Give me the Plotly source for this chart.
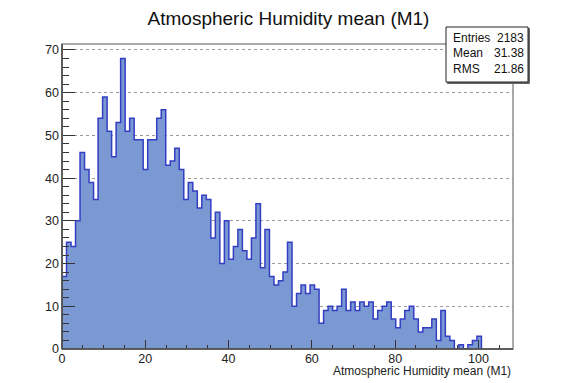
import plotly.graph_objects as go

# ---------------- data ----------------
title_text = "Atmospheric Humidity mean (M1)"
x_title = "Atmospheric Humidity mean (M1)"
counts = [17, 25, 24, 30, 46, 42, 39, 35, 54, 59,
          51, 45, 53, 68, 51, 54, 49, 49, 42, 49,
          49, 54, 56, 43, 44, 47, 42, 35, 39, 37,
          33, 36, 35, 26, 32, 20, 30, 21, 24, 28,
          23, 21, 26, 34, 19, 28, 17, 15, 16, 18,
          25, 10, 13, 15, 13, 15, 14, 6, 9, 10,
          9, 10, 14, 9, 11, 9, 11, 10, 11, 7,
          9, 10, 11, 7, 5, 7, 9, 10, 7, 4,
          5, 5, 7, 2, 9, 3, 2, 0, 1, 0,
          1, 2, 3]
N_BINS = 100
X_MIN = 0.0
X_MAX = 108.3
Y_MAX = 71.4
stat_labels = ["Entries", "Mean", "RMS"]
stat_values = ["2183", "31.38", "21.86"]

# ---------------- figure ----------------
bw = (X_MAX - X_MIN) / N_BINS
edges = [X_MIN + i * bw for i in range(len(counts) + 1)]
xs = [edges[0]] + edges[:len(counts)] + [edges[len(counts)]]
ys = [0] + counts + [0]

FONT = "Liberation Sans, Arial, sans-serif"
TXT = "#222222"

fig = go.Figure()
fig.add_trace(go.Scatter(
    x=xs, y=ys, mode="lines", line_shape="hv",
    line=dict(color="rgb(52,62,195)", width=1.5),
    fill="tozeroy", fillcolor="rgb(122,153,210)",
    hoverinfo="skip", showlegend=False,
))

fig.update_layout(
    width=561, height=383, autosize=False,
    margin=dict(l=62, r=48, t=44, b=34, pad=0),
    paper_bgcolor="white", plot_bgcolor="white",
    font=dict(family=FONT, size=12.5, color=TXT),
    title=dict(text=title_text, x=288.5 / 561, y=1 - 18 / 383,
               xanchor="center", yanchor="middle",
               font=dict(family=FONT, size=19, color="#111111")),
    showlegend=False,
)

fig.update_xaxes(
    range=[X_MIN, X_MAX], showgrid=False, zeroline=False,
    tickmode="linear", tick0=0, dtick=20,
    ticks="inside", ticklen=9, tickwidth=1, tickcolor="#333333",
    tickfont=dict(family=FONT, size=12.5, color=TXT),
    minor=dict(tickmode="linear", tick0=0, dtick=5, ticks="inside",
               ticklen=4.5, tickcolor="#333333", showgrid=False),
    showline=False,
)
fig.update_yaxes(
    range=[0, Y_MAX], zeroline=False,
    showgrid=True, gridcolor="#9a9a9a", griddash="dot", gridwidth=1,
    tickmode="linear", tick0=0, dtick=10,
    ticks="inside", ticklen=13, tickwidth=1, tickcolor="#333333",
    tickfont=dict(family=FONT, size=12.5, color=TXT),
    ticklabelstandoff=2,
    minor=dict(tickmode="linear", tick0=0, dtick=2, ticks="inside",
               ticklen=6.5, tickcolor="#333333", showgrid=False),
    showline=False,
)

# frame
fig.add_shape(type="rect", xref="paper", yref="paper", x0=0, x1=1, y0=0, y1=1,
              line=dict(color="#8f8f8f", width=1.5), layer="above")
fig.add_shape(type="line", xref="paper", yref="paper", x0=0, x1=0, y0=0, y1=1,
              line=dict(color="#444444", width=1.5), layer="above")
fig.add_shape(type="line", xref="paper", yref="paper", x0=0, x1=1, y0=0, y1=0,
              line=dict(color="#444444", width=1.5), layer="above")

# x-axis title (right aligned, ROOT style)
fig.add_annotation(text=x_title, xref="paper", yref="paper", x=1.0, y=(349 - 371) / 305,
                   xanchor="right", yanchor="middle", showarrow=False,
                   font=dict(family=FONT, size=12, color=TXT))

# stats box
bx0, bx1 = (446 - 62) / 451, (528 - 62) / 451
by0, by1 = (349 - 82) / 305, (349 - 27) / 305
fig.add_shape(type="rect", xref="paper", yref="paper",
              x0=bx0 + 1.5 / 451, x1=bx1 + 1.5 / 451, y0=by0 - 1.5 / 305, y1=by1 - 1.5 / 305,
              line=dict(color="#666666", width=1), fillcolor="#666666", layer="above")
fig.add_shape(type="rect", xref="paper", yref="paper",
              x0=bx0, x1=bx1, y0=by0, y1=by1,
              line=dict(color="#222222", width=1), fillcolor="white", layer="above")
row_px = [38, 53.5, 68.5]
for lab, val, py in zip(stat_labels, stat_values, row_px):
    yy = (349 - py) / 305
    fig.add_annotation(text=lab, xref="paper", yref="paper", x=(451 - 62) / 451, y=yy,
                       xanchor="left", yanchor="middle", showarrow=False,
                       font=dict(family=FONT, size=12, color="#111111"))
    fig.add_annotation(text=val, xref="paper", yref="paper", x=(526 - 62) / 451, y=yy,
                       xanchor="right", yanchor="middle", showarrow=False,
                       font=dict(family=FONT, size=12, color="#111111"))

fig.write_html("out.html")
